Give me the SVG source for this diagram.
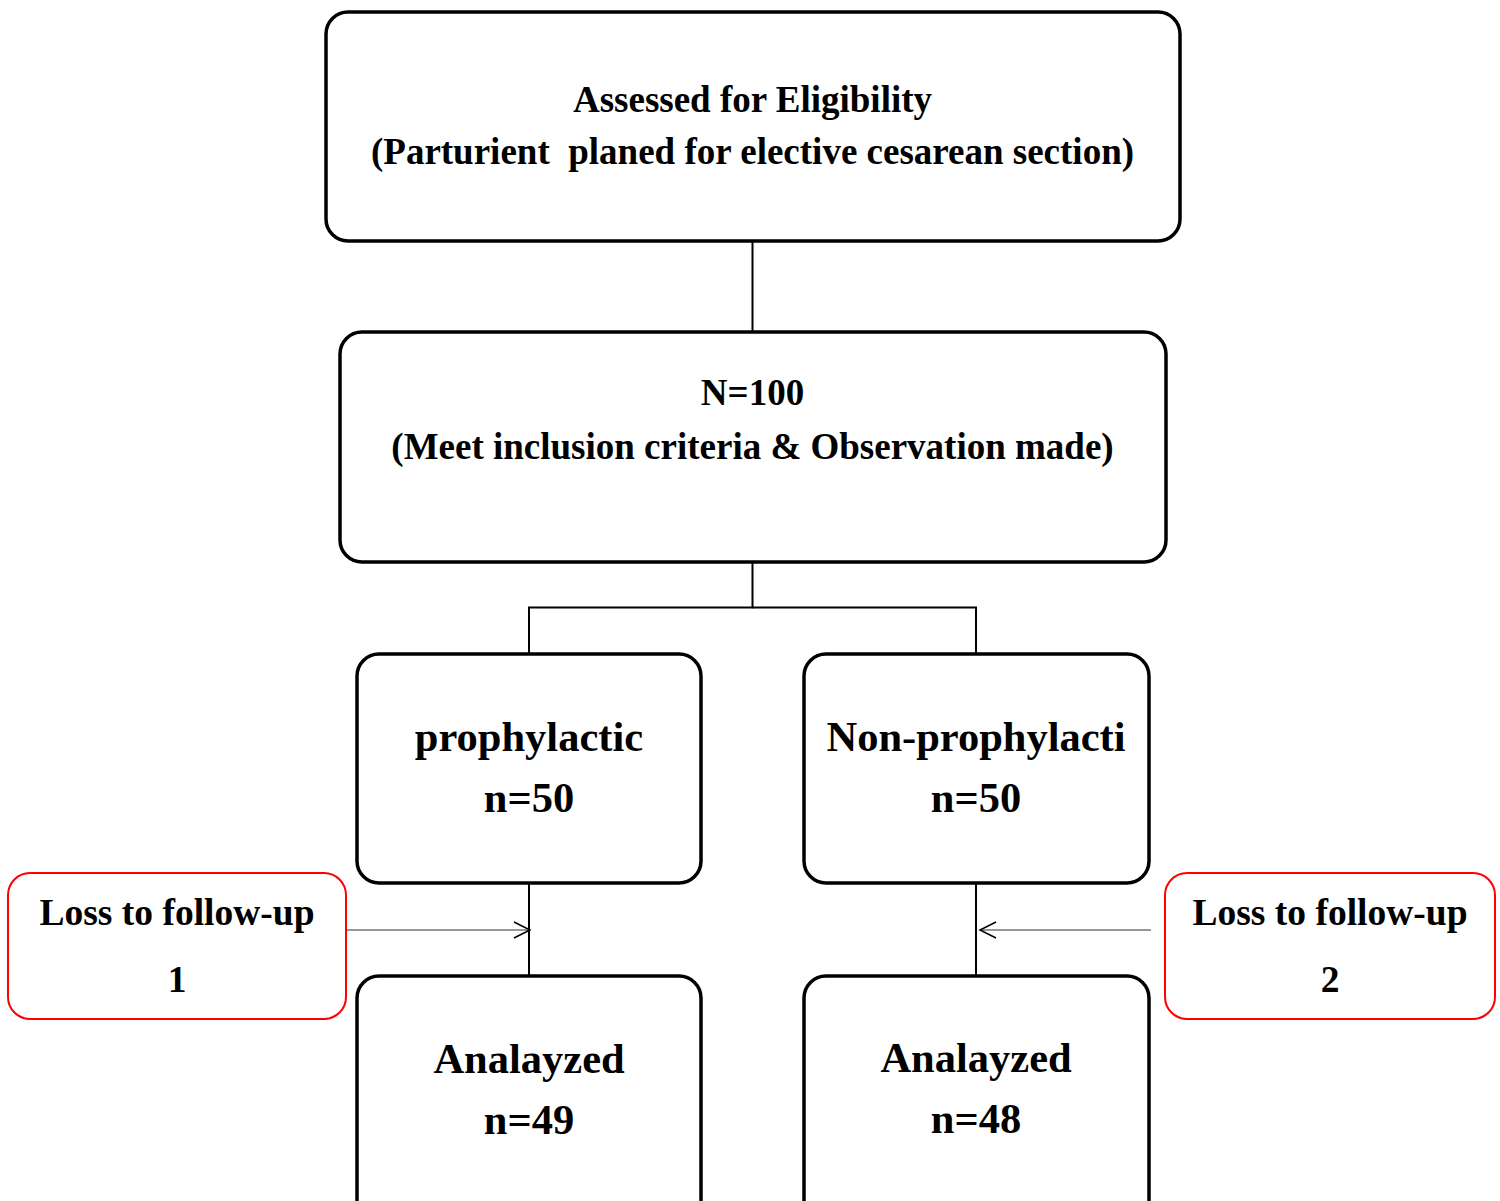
<svg xmlns="http://www.w3.org/2000/svg" width="1500" height="1201" viewBox="0 0 1500 1201">
<defs>
<style>
.box{fill:#fff;stroke:#000;stroke-width:3.5}
.red{fill:#fff;stroke:#f00;stroke-width:2}
.t{font-family:"Liberation Serif","Times New Roman",serif;font-weight:bold;text-anchor:middle;fill:#000}
.conn{stroke:#000;stroke-width:2;fill:none}
.arr{stroke:#333;stroke-width:1.2;fill:none}
</style>
<marker id="ah" viewBox="0 0 20 20" refX="18" refY="10" markerWidth="20" markerHeight="20" markerUnits="userSpaceOnUse" orient="auto">
<path d="M2,2 L18,10 L2,18" fill="none" stroke="#000" stroke-width="1.5"/>
</marker>
</defs>
<rect width="1500" height="1201" fill="#fff"/>
<g id="connectors">
<line class="conn" x1="752.5" y1="241" x2="752.5" y2="332"/>
<polyline class="conn" points="752.5,562 752.5,607.5 529,607.5 529,654"/>
<polyline class="conn" points="752.5,607.5 976,607.5 976,654"/>
<line class="conn" x1="529" y1="883" x2="529" y2="976"/>
<line class="conn" x1="976" y1="883" x2="976" y2="976"/>
<line class="arr" x1="346" y1="930" x2="530" y2="930" marker-end="url(#ah)"/>
<line class="arr" x1="1151" y1="930" x2="980" y2="930" marker-end="url(#ah)"/>
</g>
<g id="n1">
<rect class="box" x="326" y="12" width="854" height="229" rx="22"/>
<text class="t" x="752.5" y="112" font-size="37">Assessed for Eligibility</text>
<text class="t" x="752.5" y="164" font-size="37" xml:space="preserve">(Parturient  planed for elective cesarean section)</text>
</g>
<g id="n2">
<rect class="box" x="340" y="332" width="826" height="230" rx="22"/>
<text class="t" x="752.5" y="405" font-size="37">N=100</text>
<text class="t" x="752.5" y="459" font-size="37">(Meet inclusion criteria &amp; Observation made)</text>
</g>
<g id="n3">
<rect class="box" x="357" y="654" width="344" height="229" rx="22"/>
<text class="t" x="529" y="751" font-size="42.5">prophylactic</text>
<text class="t" x="529" y="812" font-size="42.5">n=50</text>
</g>
<g id="n4">
<rect class="box" x="804" y="654" width="345" height="229" rx="22"/>
<text class="t" x="976" y="751" font-size="42.5">Non-prophylacti</text>
<text class="t" x="976" y="812" font-size="42.5">n=50</text>
</g>
<g id="n5">
<rect class="box" x="357" y="976" width="344" height="250" rx="22"/>
<text class="t" x="529" y="1073" font-size="42.5">Analayzed</text>
<text class="t" x="529" y="1134" font-size="42.5">n=49</text>
</g>
<g id="n6">
<rect class="box" x="804" y="976" width="345" height="250" rx="22"/>
<text class="t" x="976" y="1072" font-size="42.5">Analayzed</text>
<text class="t" x="976" y="1133" font-size="42.5">n=48</text>
</g>
<g id="n7">
<rect class="red" x="8" y="873" width="338" height="146" rx="22"/>
<text class="t" x="177" y="925" font-size="37.5">Loss to follow-up</text>
<text class="t" x="177" y="992" font-size="37.5">1</text>
</g>
<g id="n8">
<rect class="red" x="1165" y="873" width="330" height="146" rx="22"/>
<text class="t" x="1330" y="925" font-size="37.5">Loss to follow-up</text>
<text class="t" x="1330" y="992" font-size="37.5">2</text>
</g>
</svg>
